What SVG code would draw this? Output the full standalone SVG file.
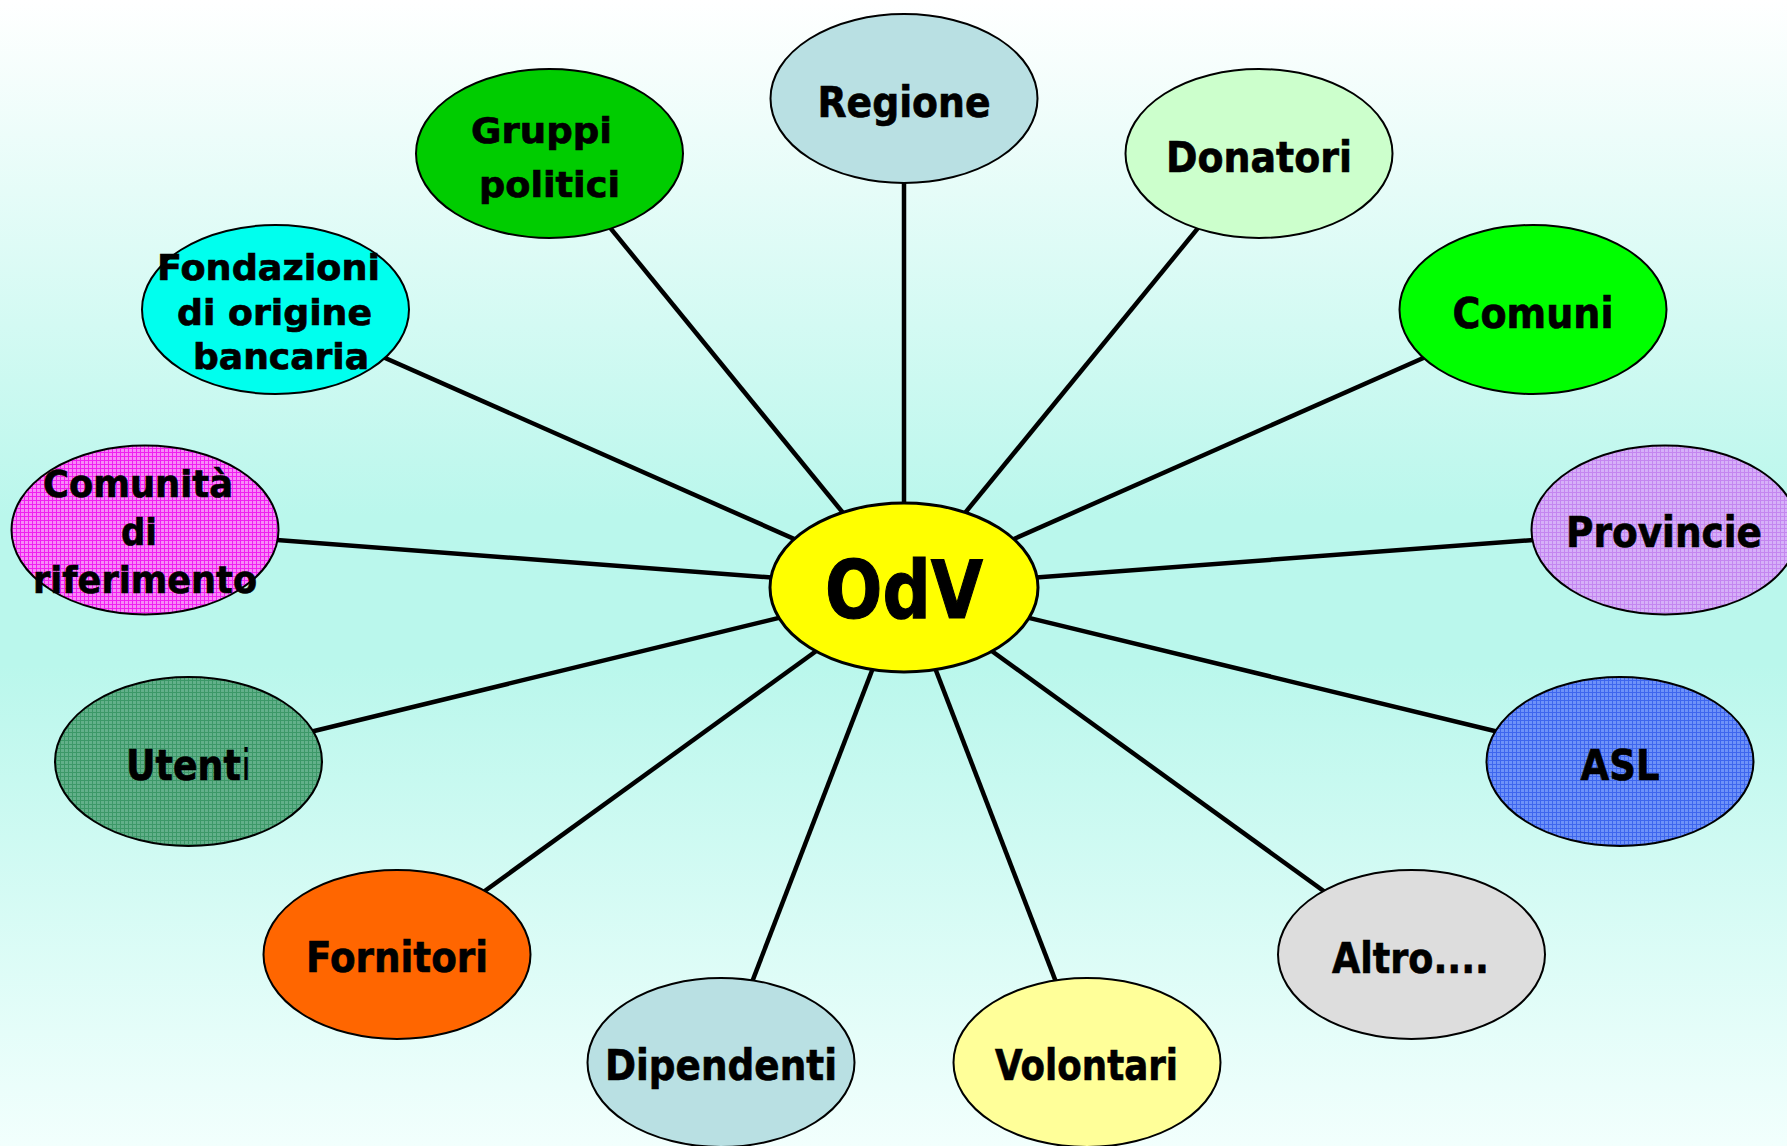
<svg xmlns="http://www.w3.org/2000/svg" width="1787" height="1146" viewBox="0 0 1787 1146">
  <defs>
    <linearGradient id="bg" x1="0" y1="0" x2="0" y2="1">
      <stop offset="0" stop-color="#FFFFFF"/>
      <stop offset="0.45" stop-color="#BAF7EC"/>
      <stop offset="0.58" stop-color="#BAF7EC"/>
      <stop offset="1" stop-color="#F2FFFD"/>
    </linearGradient>
    <!-- small-grid fills -->
    <pattern id="gridMagenta" patternUnits="userSpaceOnUse" width="4" height="4">
      <rect width="4" height="4" fill="#F78AF7"/>
      <path d="M0 0.5H4M0.5 0V4" stroke="#F020F0" stroke-width="1"/>
    </pattern>
    <pattern id="gridPurple" patternUnits="userSpaceOnUse" width="4" height="4">
      <rect width="4" height="4" fill="#D6B0F8"/>
      <path d="M0 0.5H4M0.5 0V4" stroke="#C486F0" stroke-width="1"/>
    </pattern>
    <pattern id="gridGreen" patternUnits="userSpaceOnUse" width="4" height="4">
      <rect width="4" height="4" fill="#62B08A"/>
      <path d="M0 0.5H4M0.5 0V4" stroke="#3C9868" stroke-width="1"/>
    </pattern>
    <pattern id="gridBlue" patternUnits="userSpaceOnUse" width="4" height="4">
      <rect width="4" height="4" fill="#6E92F8"/>
      <path d="M0 0.5H4M0.5 0V4" stroke="#3E66EE" stroke-width="1"/>
    </pattern>
  </defs>
  <style>
    .node { stroke: #000; stroke-width: 2; }
    .hub { stroke: #000; stroke-width: 3; }
    .lbl { font-family: "DejaVu Sans", Verdana, sans-serif; font-weight: bold; font-size: 43px; fill: #000; stroke: #000; stroke-width: 0.7; text-anchor: middle; }
    .sm { font-size: 36px; }
    .md { font-size: 38px; }
    .thin { font-weight: normal; stroke-width: 0; }
    .links line { stroke: #000; stroke-width: 4.5; }
  </style>

  <rect width="1787" height="1146" fill="url(#bg)"/>

  <g id="connectors" class="links">
    <line x1="904" y1="98.5" x2="904" y2="587.5"/>
    <line x1="549.5" y1="153.5" x2="904" y2="587.5"/>
    <line x1="1259" y1="153.5" x2="904" y2="587.5"/>
    <line x1="275.5" y1="309.5" x2="904" y2="587.5"/>
    <line x1="1533" y1="309.5" x2="904" y2="587.5"/>
    <line x1="145" y1="530" x2="904" y2="587.5"/>
    <line x1="1665" y1="530" x2="904" y2="587.5"/>
    <line x1="188.5" y1="761.5" x2="904" y2="587.5"/>
    <line x1="1620" y1="761.5" x2="904" y2="587.5"/>
    <line x1="397" y1="954.5" x2="904" y2="587.5"/>
    <line x1="1411.5" y1="954.5" x2="904" y2="587.5"/>
    <line x1="721" y1="1062.5" x2="904" y2="587.5"/>
    <line x1="1087" y1="1062.5" x2="904" y2="587.5"/>
  </g>

  <g id="regione">
    <ellipse class="node" cx="904" cy="98.5" rx="133.5" ry="84.5" fill="#B9E0E3"/>
    <text class="lbl" x="904" y="117" textLength="173" lengthAdjust="spacingAndGlyphs">Regione</text>
  </g>
  <g id="gruppi-politici">
    <ellipse class="node" cx="549.5" cy="153.5" rx="133.5" ry="84.5" fill="#00CC00"/>
    <text class="lbl sm" x="541.5" y="143" textLength="141" lengthAdjust="spacingAndGlyphs">Gruppi</text>
    <text class="lbl sm" x="549.5" y="197" textLength="141" lengthAdjust="spacingAndGlyphs">politici</text>
  </g>
  <g id="donatori">
    <ellipse class="node" cx="1259" cy="153.5" rx="133.5" ry="84.5" fill="#CCFFCC"/>
    <text class="lbl" x="1259" y="172" textLength="186" lengthAdjust="spacingAndGlyphs">Donatori</text>
  </g>
  <g id="fondazioni">
    <ellipse class="node" cx="275.5" cy="309.5" rx="133.5" ry="84.5" fill="#00FFEE"/>
    <text class="lbl sm" x="268.5" y="280" textLength="223" lengthAdjust="spacingAndGlyphs">Fondazioni</text>
    <text class="lbl sm" x="274.5" y="325" textLength="195" lengthAdjust="spacingAndGlyphs">di origine</text>
    <text class="lbl sm" x="281" y="369" textLength="176" lengthAdjust="spacingAndGlyphs">bancaria</text>
  </g>
  <g id="comuni">
    <ellipse class="node" cx="1533" cy="309.5" rx="133.5" ry="84.5" fill="#00FF00"/>
    <text class="lbl" x="1533" y="328" textLength="161" lengthAdjust="spacingAndGlyphs">Comuni</text>
  </g>
  <g id="comunita">
    <ellipse class="node" cx="145" cy="530" rx="133.5" ry="84.5" fill="url(#gridMagenta)"/>
    <text class="lbl md" x="138" y="497" textLength="190" lengthAdjust="spacingAndGlyphs">Comunità</text>
    <text class="lbl md" x="139" y="545" textLength="36" lengthAdjust="spacingAndGlyphs">di</text>
    <text class="lbl md" x="145" y="593" textLength="224" lengthAdjust="spacingAndGlyphs">riferimento</text>
  </g>
  <g id="provincie">
    <ellipse class="node" cx="1665" cy="530" rx="133.5" ry="84.5" fill="url(#gridPurple)"/>
    <text class="lbl" x="1664" y="547" textLength="196" lengthAdjust="spacingAndGlyphs">Provincie</text>
  </g>
  <g id="odv">
    <ellipse class="hub" cx="904" cy="587.5" rx="134" ry="84.5" fill="#FFFF00"/>
    <text class="lbl" x="904" y="618" style="font-size:80px;stroke-width:1.2" textLength="158" lengthAdjust="spacingAndGlyphs">OdV</text>
  </g>
  <g id="utenti">
    <ellipse class="node" cx="188.5" cy="761.5" rx="133.5" ry="84.5" fill="url(#gridGreen)"/>
    <text class="lbl" x="126" y="780" style="text-anchor:start" textLength="125" lengthAdjust="spacingAndGlyphs">Utent<tspan class="thin">i</tspan></text>
  </g>
  <g id="asl">
    <ellipse class="node" cx="1620" cy="761.5" rx="133.5" ry="84.5" fill="url(#gridBlue)"/>
    <text class="lbl" x="1620" y="780" textLength="79" lengthAdjust="spacingAndGlyphs">ASL</text>
  </g>
  <g id="fornitori">
    <ellipse class="node" cx="397" cy="954.5" rx="133.5" ry="84.5" fill="#FF6600"/>
    <text class="lbl" x="397" y="972" textLength="182" lengthAdjust="spacingAndGlyphs">Fornitori</text>
  </g>
  <g id="altro">
    <ellipse class="node" cx="1411.5" cy="954.5" rx="133.5" ry="84.5" fill="#DDDDDD"/>
    <text class="lbl" x="1410.5" y="973" textLength="157" lengthAdjust="spacingAndGlyphs">Altro....</text>
  </g>
  <g id="dipendenti">
    <ellipse class="node" cx="721" cy="1062.5" rx="133.5" ry="84.5" fill="#B9E0E3"/>
    <text class="lbl" x="721" y="1080" textLength="232" lengthAdjust="spacingAndGlyphs">Dipendenti</text>
  </g>
  <g id="volontari">
    <ellipse class="node" cx="1087" cy="1062.5" rx="133.5" ry="84.5" fill="#FFFF99"/>
    <text class="lbl" x="1086.5" y="1080" textLength="183" lengthAdjust="spacingAndGlyphs">Volontari</text>
  </g>
</svg>
